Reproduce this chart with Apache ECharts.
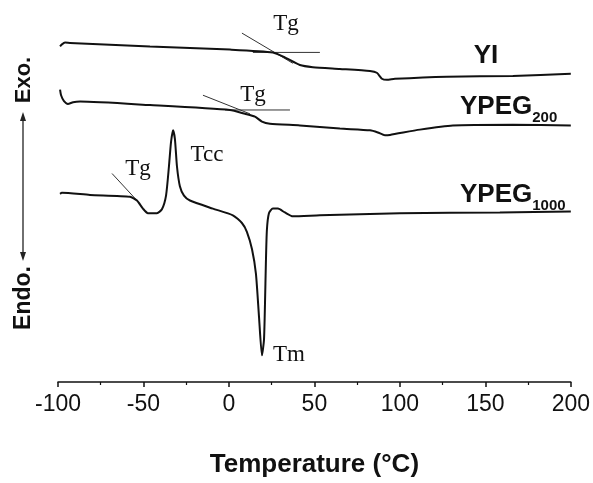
<!DOCTYPE html>
<html>
<head>
<meta charset="utf-8">
<title>DSC thermograms</title>
<script src="https://cdn.jsdelivr.net/npm/echarts@6/dist/echarts.min.js"></script>
<style>
  html, body { margin: 0; padding: 0; background: #fff; }
  #chart { width: 593px; height: 483px; }
</style>
</head>
<body>
<div id="chart"></div>
<script>
// DSC heating curves (heat flow in arbitrary, vertically offset units)
const xTicks = [-100, -50, 0, 50, 100, 150, 200];

const yiTemp = [-98.8, -97.7, -95.9, -93.0, -46.2, 0.6, 25.7, 32.7, 41.5, 49.1, 64.9, 82.5, 86.5, 89.5, 92.4, 97.1, 127.5, 166.1, 200];
const yiHeat = [95.6, 96.2, 96.7, 96.6, 95.6, 94.7, 93.9, 92.5, 90.3, 89.7, 89.2, 88.6, 88.1, 86.4, 86.1, 86.4, 87.0, 87.2, 87.8];

const peg200Temp = [-98.8, -98.2, -96.5, -94.2, -91.2, -87.1, -46.2, 0.6, 9.4, 15.2, 19.3, 24.0, 41.5, 64.9, 82.5, 87.1, 91.2, 94.2, 111.7, 131.0, 166.1, 200];
const peg200Heat = [83.3, 81.7, 80.0, 79.2, 79.7, 79.9, 78.9, 77.5, 76.4, 75.6, 74.2, 73.6, 73.1, 72.2, 71.7, 71.1, 70.3, 70.4, 71.9, 73.1, 73.3, 73.1];

const peg1000Temp = [-98.8, -97.7, -81.3, -57.9, -53.8, -50.3, -47.4, -42.1, -39.2, -36.8, -35.1, -33.9, -32.7, -31.6, -30.4, -28.7, -26.3, -22.8, -9.4, 2.3, 7.6, 10.5, 13.5, 15.8, 17.6, 19.3, 20.5, 21.1, 21.6, 22.2, 23.4, 25.7, 28.7, 32.7, 37.4, 53.2, 100, 158.5, 200];
const peg1000Heat = [53.6, 53.9, 53.3, 52.8, 51.7, 49.4, 48.1, 48.1, 49.2, 53.1, 61.4, 68.3, 71.7, 69.2, 61.4, 55.8, 53.1, 51.7, 49.4, 47.5, 45.3, 42.8, 37.8, 30.8, 18.5, 7.6, 12.0, 22.5, 33.6, 43.3, 48.1, 49.4, 49.4, 48.3, 47.2, 47.5, 48.1, 48.3, 48.6];

// Tangent constructions used to locate Tg: [T, heat] end points
const tgYiSlope = [[7.6, 99.4], [37.4, 90.8]];
const tgYiBase = [[14.0, 93.9], [53.2, 93.9]];
const tgPeg200Slope = [[-15.2, 81.7], [12.3, 76.4]];
const tgPeg200Base = [[-2.3, 77.5], [35.7, 77.5]];
const tgPeg1000Slope = [[-68.4, 59.4], [-53.8, 51.7]];

const zip = (xs, ys) => xs.map((x, i) => [x, ys[i]]);

const curveStyle = { color: '#111', width: 2 };
const tangentStyle = { color: '#333', width: 1 };

function curve(name, data) {
  return { name, type: 'line', data, showSymbol: false, smooth: 0.2, lineStyle: curveStyle, silent: true, z: 3 };
}
function tangent(name, data) {
  return { name, type: 'line', data, showSymbol: false, lineStyle: tangentStyle, silent: true, z: 2 };
}

const serif = '"Liberation Serif", "DejaVu Serif", serif';
const sans = '"Liberation Sans", Arial, sans-serif';

const chart = echarts.init(document.getElementById('chart'), null, { renderer: 'canvas' });

chart.setOption({
  animation: false,
  backgroundColor: '#fff',
  grid: { left: 58, right: 22, top: 31, bottom: 92 },
  xAxis: {
    type: 'value',
    min: xTicks[0],
    max: xTicks[xTicks.length - 1],
    interval: 50,
    name: 'Temperature (°C)',
    nameLocation: 'middle',
    nameGap: 70,
    nameTextStyle: { fontFamily: sans, fontWeight: 'bold', fontSize: 26, color: '#111' },
    axisLine: { lineStyle: { color: '#111', width: 1.5 } },
    axisTick: { show: true, inside: false, length: 5, lineStyle: { color: '#111', width: 1.5 } },
    minorTick: { show: true, splitNumber: 2, length: 3, lineStyle: { color: '#111', width: 1.2 } },
    axisLabel: { fontFamily: sans, fontSize: 23, color: '#111', margin: 11 },
    splitLine: { show: false }
  },
  yAxis: {
    type: 'value',
    min: 0,
    max: 100,
    show: false
  },
  series: [
    curve('YI', zip(yiTemp, yiHeat)),
    curve('YPEG200', zip(peg200Temp, peg200Heat)),
    curve('YPEG1000', zip(peg1000Temp, peg1000Heat)),
    tangent('Tg YI slope', tgYiSlope),
    tangent('Tg YI base', tgYiBase),
    tangent('Tg YPEG200 slope', tgPeg200Slope),
    tangent('Tg YPEG200 base', tgPeg200Base),
    tangent('Tg YPEG1000 slope', tgPeg1000Slope)
  ],
  graphic: [
    // Exo / Endo direction arrow
    { type: 'line', shape: { x1: 23, y1: 118, x2: 23, y2: 255 }, style: { stroke: '#222', lineWidth: 1.3 } },
    { type: 'polygon', shape: { points: [[23, 112], [20, 121], [26, 121]] }, style: { fill: '#222' } },
    { type: 'polygon', shape: { points: [[23, 261], [20, 252], [26, 252]] }, style: { fill: '#222' } },
    { type: 'text', x: 24, y: 80, rotation: Math.PI / 2,
      style: { text: 'Exo.', font: 'bold 22px ' + sans, fill: '#111', align: 'center', verticalAlign: 'middle' } },
    { type: 'text', x: 24, y: 298, rotation: Math.PI / 2,
      style: { text: 'Endo.', font: 'bold 23px ' + sans, fill: '#111', align: 'center', verticalAlign: 'middle' } },

    // Sample names
    { type: 'text', x: 486, y: 56,
      style: { text: 'YI', font: 'bold 26px ' + sans, fill: '#111', align: 'center', verticalAlign: 'middle' } },
    { type: 'text', x: 460, y: 120,
      style: { text: '{b|YPEG}{s|200}', fill: '#111', align: 'left', verticalAlign: 'bottom',
        rich: { b: { font: 'bold 26px ' + sans, fill: '#111', verticalAlign: 'bottom' },
                s: { font: 'bold 15px ' + sans, fill: '#111', verticalAlign: 'bottom', padding: [0, 0, -5, 0] } } } },
    { type: 'text', x: 460, y: 208,
      style: { text: '{b|YPEG}{s|1000}', fill: '#111', align: 'left', verticalAlign: 'bottom',
        rich: { b: { font: 'bold 26px ' + sans, fill: '#111', verticalAlign: 'bottom' },
                s: { font: 'bold 15px ' + sans, fill: '#111', verticalAlign: 'bottom', padding: [0, 0, -5, 0] } } } },

    // Transition labels
    { type: 'text', x: 286, y: 24,
      style: { text: 'Tg', font: '23px ' + serif, fill: '#111', align: 'center', verticalAlign: 'middle' } },
    { type: 'text', x: 253, y: 95,
      style: { text: 'Tg', font: '23px ' + serif, fill: '#111', align: 'center', verticalAlign: 'middle' } },
    { type: 'text', x: 138, y: 169,
      style: { text: 'Tg', font: '23px ' + serif, fill: '#111', align: 'center', verticalAlign: 'middle' } },
    { type: 'text', x: 207, y: 155,
      style: { text: 'Tcc', font: '23px ' + serif, fill: '#111', align: 'center', verticalAlign: 'middle' } },
    { type: 'text', x: 289, y: 355,
      style: { text: 'Tm', font: '23px ' + serif, fill: '#111', align: 'center', verticalAlign: 'middle' } }
  ]
});
</script>
</body>
</html>
